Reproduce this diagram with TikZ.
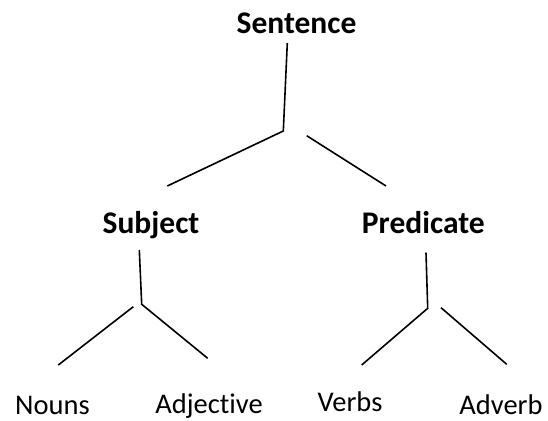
\documentclass[tikz,border=0pt]{standalone}
\usepackage{fontspec}
\setmainfont{Carlito}[Ligatures=NoCommon]
\begin{document}
\begin{tikzpicture}[x=1pt,y=-1pt]
\tikzstyle{every node}+=[inner sep=0pt,anchor=base]
\tikzset{head/.style={font=\fontsize{31.5}{36}\selectfont\bfseries},
  leaf/.style={font=\fontsize{28.5}{34}\selectfont},
  branch/.style={black,line width=1.6pt}}
\useasboundingbox (0,0) rectangle (548,420);
\node [head] (sentence) at (296.5,33.3) {Sentence};
\node [head] (subject) at (151,233.3) {Subject};
\node [head] (predicate) at (423.3,233.3) {Predicate};
\node [leaf] (nouns) at (52.5,414) {Nouns};
\node [leaf] (adjective) at (209,413) {Adjective};
\node [leaf] (verbs) at (350,411.7) {Verbs};
\node [leaf] (adverb) at (501,414.3) {Adverb};
\coordinate (sentence top) at (287.3,43);
\coordinate (sentence joint) at (283.3,131);
\coordinate (sentence left) at (167.3,186);
\coordinate (sentence gap) at (306.7,135.7);
\coordinate (sentence right) at (386,186);
\coordinate (subject top) at (139.3,250);
\coordinate (subject joint) at (141.7,304.3);
\coordinate (subject gap) at (133.3,306.7);
\coordinate (subject left) at (58.3,365);
\coordinate (subject right) at (207.7,358.3);
\coordinate (predicate top) at (426,252.7);
\coordinate (predicate joint) at (427.7,308.3);
\coordinate (predicate left) at (361.7,365);
\coordinate (predicate gap) at (441,307.7);
\coordinate (predicate right) at (506.7,364.3);
\draw [branch] (sentence top) -- (sentence joint) -- (sentence left);
\draw [branch] (sentence gap) -- (sentence right);
\draw [branch] (subject top) -- (subject joint) -- (subject right);
\draw [branch] (subject gap) -- (subject left);
\draw [branch] (predicate top) -- (predicate joint) -- (predicate left);
\draw [branch] (predicate gap) -- (predicate right);
\end{tikzpicture}
\end{document}
